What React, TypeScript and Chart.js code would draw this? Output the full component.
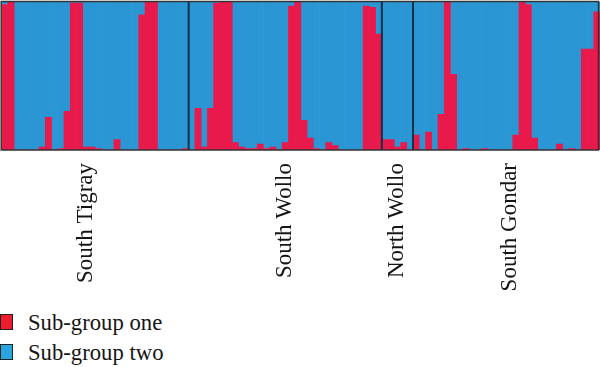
import React, { useEffect, useRef } from 'react';
import { Chart, registerables } from 'chart.js';

Chart.register(...registerables);

// Membership proportion in "Sub-group one" for each individual, by population
const groupNames = ['South Tigray', 'South Wollo', 'North Wollo', 'South Gondar'];
const southTigray = [0.98, 1.0, 0, 0, 0, 0, 0.02, 0.22, 0, 0.01, 0.26, 0.99, 0.99, 0.02, 0.02, 0.01, 0, 0, 0.07, 0, 0, 0, 0.91, 1.0, 1.0, 0, 0, 0, 0, 0.01];
const southWollo = [0, 0.28, 0.02, 0.28, 0.99, 1.0, 1.0, 0.05, 0.02, 0.01, 0.01, 0.04, 0.01, 0.02, 0.005, 0.05, 0.97, 1.0, 0.2, 0.08, 0.01, 0, 0.05, 0.03, 0, 0, 0, 0, 0.97, 0.96, 0.78];
const northWollo = [0.07, 0.07, 0.02, 0.05, 0];
const southGondar = [0.1, 0, 0.12, 0, 0.24, 1.0, 0.51, 0, 0.01, 0, 0, 0.01, 0, 0, 0, 0, 0.1, 1.0, 0.98, 0.08, 0, 0, 0, 0.04, 0, 0.01, 0, 0.68, 0.68, 0.93];
// individual index under which each population name is written
const labelTicks = [13, 45, 63, 81];
const seriesNames = ['Sub-group one', 'Sub-group two'];

const RED = '#e8194b';
const BLUE = '#2b96d4';
const LEGEND_RED = '#ed1c2e';
const LEGEND_BLUE = '#29a6de';
const FONT = "'Liberation Serif', 'Times New Roman', serif";

const groups = [southTigray, southWollo, northWollo, southGondar];
const groupSizes = groups.map((g) => g.length);
const subgroupOne = groups.flat();
const subgroupTwo = subgroupOne.map((v) => +(1 - v).toFixed(3));
const individuals = subgroupOne.map((_, i) => String(i + 1));

const framePlugin = {
  id: 'structureFrame',
  afterDatasetsDraw(chart: any) {
    const { ctx, chartArea: a } = chart;
    const x = chart.scales.x;
    const w = x.getPixelForValue(1) - x.getPixelForValue(0);
    const right = Math.min(a.right, chart.width - 1.5);
    ctx.save();
    ctx.strokeStyle = '#123049';
    ctx.lineWidth = 2;
    let idx = 0;
    for (let g = 0; g < groupSizes.length - 1; g++) {
      idx += groupSizes[g];
      const px = x.getPixelForValue(idx) - w / 2;
      ctx.beginPath();
      ctx.moveTo(px, a.top);
      ctx.lineTo(px, a.bottom);
      ctx.stroke();
    }
    ctx.strokeStyle = '#333';
    ctx.lineWidth = 1.5;
    ctx.strokeRect(a.left - 0.5, a.top, right - a.left + 0.5, a.bottom - a.top);
    ctx.restore();
  },
};

export default function App() {
  const ref = useRef<HTMLCanvasElement>(null);
  useEffect(() => {
    if (!ref.current) return;
    const chart = new Chart(ref.current, {
      type: 'bar',
      data: {
        labels: individuals,
        datasets: [
          { label: seriesNames[0], data: subgroupOne, backgroundColor: RED, borderWidth: 0, barPercentage: 1, categoryPercentage: 1 },
          { label: seriesNames[1], data: subgroupTwo, backgroundColor: BLUE, borderWidth: 0, barPercentage: 1, categoryPercentage: 1 },
        ],
      },
      options: {
        animation: false,
        responsive: false,
        events: [],
        layout: { padding: { left: 1.7, right: -0.7, top: 1.5, bottom: 0 } },
        plugins: { legend: { display: false }, tooltip: { enabled: false } },
        scales: {
          x: {
            stacked: true,
            grid: { display: false, drawTicks: false },
            border: { display: false },
            ticks: {
              autoSkip: false,
              minRotation: 90,
              maxRotation: 90,
              padding: 13,
              color: '#151515',
              font: { family: FONT, size: 23 },
              callback: (_v: any, i: number) => {
                const k = labelTicks.indexOf(i);
                return k >= 0 ? groupNames[k] : '';
              },
            },
            afterFit: (scale: any) => {
              scale.height = 150;
              scale.paddingLeft = 0;
              scale.paddingRight = 0;
            },
          },
          y: { stacked: true, display: false, min: 0, max: 1 },
        },
      },
      plugins: [framePlugin],
    });
    return () => chart.destroy();
  }, []);

  const sq = (color: string, top: number) => ({
    position: 'absolute' as const,
    left: 0,
    top,
    width: 13,
    height: 16,
    boxSizing: 'border-box' as const,
    background: color,
    border: '1px solid #222',
  });
  const txt = (top: number) => ({
    position: 'absolute' as const,
    left: 28,
    top,
    fontFamily: FONT,
    fontSize: 22.7,
    lineHeight: '23px',
    color: '#151515',
    whiteSpace: 'nowrap' as const,
  });

  return (
    <div style={{ position: 'absolute', left: 0, top: 0, width: 600, height: 367, background: '#fff', overflow: 'hidden' }}>
      <canvas ref={ref} width={600} height={300} style={{ position: 'absolute', left: 0, top: 0 }} />
      <div style={sq(LEGEND_RED, 314)} />
      <div style={txt(311)}>{seriesNames[0]}</div>
      <div style={sq(LEGEND_BLUE, 344)} />
      <div style={txt(341)}>{seriesNames[1]}</div>
    </div>
  );
}
